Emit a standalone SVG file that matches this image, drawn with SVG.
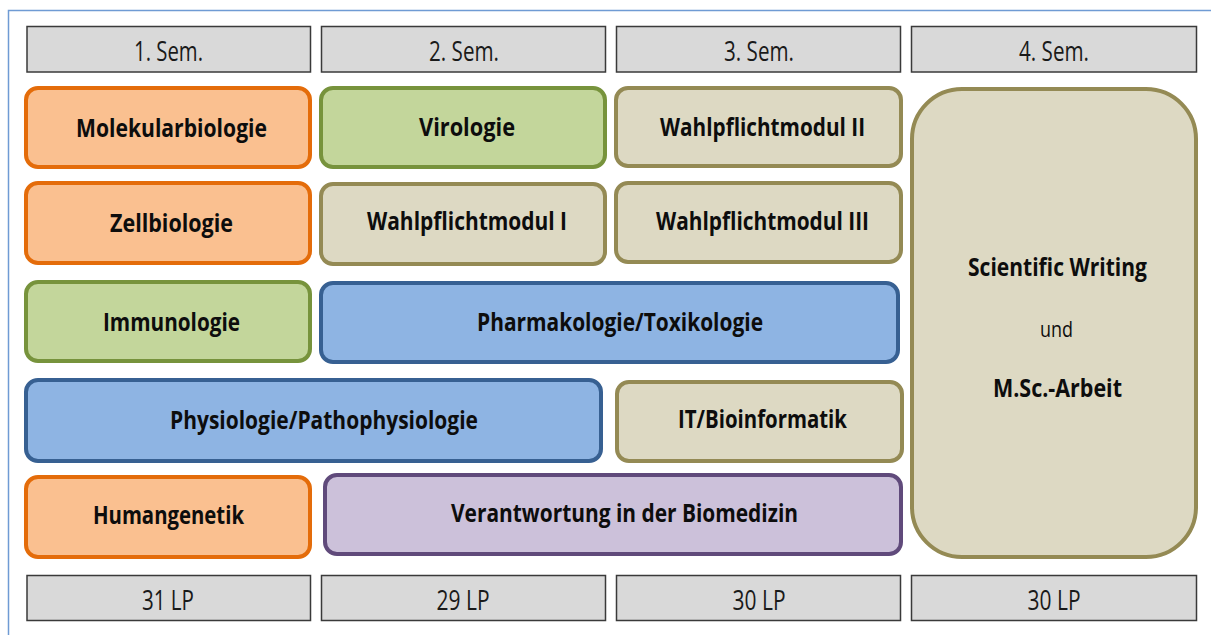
<svg xmlns="http://www.w3.org/2000/svg" width="1211" height="635" viewBox="0 0 1211 635">
<style>
.hdr{fill:#d9d9d9;stroke:#3a3a3a;stroke-width:1.5}
.ht{font-family:"Open Sans","Liberation Sans",sans-serif;font-size:27px;fill:#1a1a1a;text-anchor:middle}
.bt{font-family:"Open Sans","Liberation Sans",sans-serif;font-weight:bold;font-size:25px;fill:#0d0d0d;text-anchor:middle}
.rt{font-family:"Open Sans","Liberation Sans",sans-serif;font-size:22px;fill:#0d0d0d;text-anchor:middle}
.n{stroke-width:4}
.or{fill:#fac090;stroke:#e46c0a}
.gr{fill:#c3d69b;stroke:#77933c}
.kh{fill:#ddd9c3;stroke:#948a54}
.bl{fill:#8eb4e3;stroke:#376092}
.pu{fill:#ccc1da;stroke:#604a7b}
</style>
<rect width="1211" height="635" fill="#ffffff"/>
<path d="M8.5 635 V10.5 H1211" fill="none" stroke="#6f9bd4" stroke-width="1.5"/>

<g id="headers">
<rect class="hdr" x="27" y="26.5" width="283.5" height="45.5"/>
<rect class="hdr" x="321.5" y="26.5" width="284" height="45.5"/>
<rect class="hdr" x="616.5" y="26.5" width="284" height="45.5"/>
<rect class="hdr" x="911.5" y="26.5" width="285" height="45.5"/>
<text class="ht" x="168.5" y="61" textLength="69" lengthAdjust="spacingAndGlyphs">1. Sem.</text>
<text class="ht" x="464" y="61" textLength="70" lengthAdjust="spacingAndGlyphs">2. Sem.</text>
<text class="ht" x="759" y="61" textLength="70" lengthAdjust="spacingAndGlyphs">3. Sem.</text>
<text class="ht" x="1054" y="61" textLength="70" lengthAdjust="spacingAndGlyphs">4. Sem.</text>
</g>

<g id="footers">
<rect class="hdr" x="27" y="575.5" width="283.5" height="45"/>
<rect class="hdr" x="321.5" y="575.5" width="284" height="45"/>
<rect class="hdr" x="616.5" y="575.5" width="284" height="45"/>
<rect class="hdr" x="911.5" y="575.5" width="285" height="45"/>
<text class="ht" x="168" y="610" textLength="52" lengthAdjust="spacingAndGlyphs">31 LP</text>
<text class="ht" x="463" y="610" textLength="53" lengthAdjust="spacingAndGlyphs">29 LP</text>
<text class="ht" x="759" y="610" textLength="53" lengthAdjust="spacingAndGlyphs">30 LP</text>
<text class="ht" x="1054" y="610" textLength="53" lengthAdjust="spacingAndGlyphs">30 LP</text>
</g>

<g id="molekularbiologie">
<rect class="n or" x="26" y="88" width="284" height="79" rx="12"/>
<text class="bt" x="171.5" y="137" textLength="191" lengthAdjust="spacingAndGlyphs">Molekularbiologie</text>
</g>
<g id="zellbiologie">
<rect class="n or" x="26" y="183" width="284" height="80" rx="12"/>
<text class="bt" x="171.5" y="232" textLength="123" lengthAdjust="spacingAndGlyphs">Zellbiologie</text>
</g>
<g id="immunologie">
<rect class="n gr" x="26" y="282" width="284" height="79" rx="12"/>
<text class="bt" x="171.5" y="331" textLength="137" lengthAdjust="spacingAndGlyphs">Immunologie</text>
</g>
<g id="physiologie">
<rect class="n bl" x="26" y="380" width="575" height="81" rx="12"/>
<text class="bt" x="324" y="429" textLength="308" lengthAdjust="spacingAndGlyphs">Physiologie/Pathophysiologie</text>
</g>
<g id="humangenetik">
<rect class="n or" x="26" y="477" width="284" height="80" rx="12"/>
<text class="bt" x="168.5" y="524" textLength="151" lengthAdjust="spacingAndGlyphs">Humangenetik</text>
</g>
<g id="virologie">
<rect class="n gr" x="321" y="88" width="284" height="79" rx="12"/>
<text class="bt" x="467" y="136" textLength="96" lengthAdjust="spacingAndGlyphs">Virologie</text>
</g>
<g id="wahlpflichtmodul1">
<rect class="n kh" x="321" y="184" width="284" height="80" rx="12"/>
<text class="bt" x="467" y="230" textLength="200" lengthAdjust="spacingAndGlyphs">Wahlpflichtmodul I</text>
</g>
<g id="pharmakologie">
<rect class="n bl" x="321" y="283" width="577" height="79" rx="12"/>
<text class="bt" x="620" y="331" textLength="286" lengthAdjust="spacingAndGlyphs">Pharmakologie/Toxikologie</text>
</g>
<g id="verantwortung">
<rect class="n pu" x="325" y="475" width="576" height="79" rx="12"/>
<text class="bt" x="624.5" y="522" textLength="347" lengthAdjust="spacingAndGlyphs">Verantwortung in der Biomedizin</text>
</g>
<g id="wahlpflichtmodul2">
<rect class="n kh" x="616" y="88" width="285" height="78" rx="12"/>
<text class="bt" x="762.5" y="136" textLength="205" lengthAdjust="spacingAndGlyphs">Wahlpflichtmodul II</text>
</g>
<g id="wahlpflichtmodul3">
<rect class="n kh" x="616" y="183" width="285" height="79" rx="12"/>
<text class="bt" x="762.5" y="230" textLength="213" lengthAdjust="spacingAndGlyphs">Wahlpflichtmodul III</text>
</g>
<g id="bioinformatik">
<rect class="n kh" x="617" y="382" width="285" height="79" rx="12"/>
<text class="bt" x="762.5" y="428" textLength="169" lengthAdjust="spacingAndGlyphs">IT/Bioinformatik</text>
</g>
<g id="masterarbeit">
<rect class="n kh" x="912" y="89" width="284" height="468" rx="50"/>
<text class="bt" x="1057.5" y="276" font-size="22" textLength="179" lengthAdjust="spacingAndGlyphs">Scientific Writing</text>
<text class="rt" x="1056.5" y="337" textLength="33" lengthAdjust="spacingAndGlyphs">und</text>
<text class="bt" x="1057.5" y="397" font-size="22" textLength="129" lengthAdjust="spacingAndGlyphs">M.Sc.-Arbeit</text>
</g>
<g id="connectors"></g>
</svg>
